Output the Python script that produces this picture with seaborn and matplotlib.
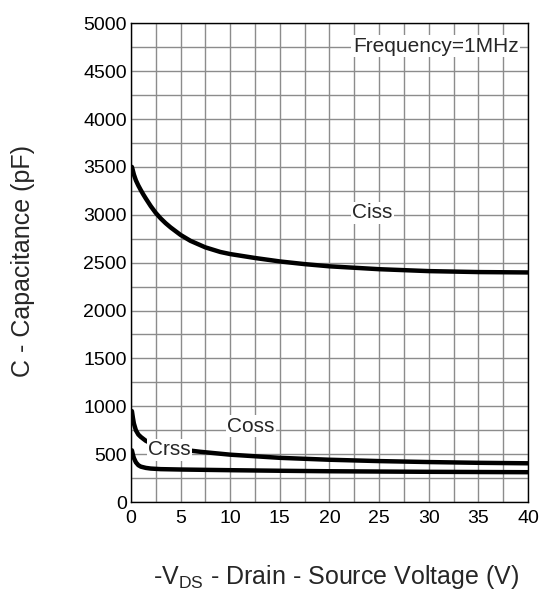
import pandas as pd
import matplotlib
matplotlib.use("Agg")
import matplotlib.pyplot as plt
from matplotlib.ticker import MultipleLocator
import seaborn as sns

# valores
ciss_v = [0.1, 0.3, 0.5, 0.75, 1, 1.25, 1.5, 2, 2.5, 3, 3.5, 4, 5, 6, 7.5, 9, 10,
          12.5, 15, 17.5, 20, 25, 30, 35, 40]
ciss_c = [3500, 3420, 3360, 3305, 3257, 3212, 3170, 3090, 3020, 2962, 2912, 2868,
          2790, 2728, 2660, 2612, 2590, 2549, 2513, 2485, 2462, 2432, 2412, 2402, 2398]

coss_v = [0.1, 0.2, 0.3, 0.5, 0.75, 1, 1.5, 2, 3, 5, 7, 10, 15, 20, 25, 30, 35, 40]
coss_c = [950, 880, 820, 750, 705, 680, 640, 615, 590, 550, 525, 495, 462, 442, 428,
          418, 410, 405]

crss_v = [0.1, 0.2, 0.3, 0.5, 0.75, 1, 1.5, 2, 3, 5, 10, 15, 20, 30, 40]
crss_c = [540, 495, 460, 415, 385, 370, 357, 350, 344, 340, 333, 327, 322, 316, 312]

x_ticks = [0, 5, 10, 15, 20, 25, 30, 35, 40]
y_ticks = [0, 500, 1000, 1500, 2000, 2500, 3000, 3500, 4000, 4500, 5000]

df = pd.concat([
    pd.DataFrame({"V": ciss_v, "C": ciss_c, "serie": "Ciss"}),
    pd.DataFrame({"V": coss_v, "C": coss_c, "serie": "Coss"}),
    pd.DataFrame({"V": crss_v, "C": crss_c, "serie": "Crss"}),
])

sns.set_theme(style="white")
plt.rcParams['font.family'] = ['Liberation Sans', 'DejaVu Sans']
plt.rcParams['mathtext.fontset'] = 'custom'
plt.rcParams['mathtext.rm'] = 'Liberation Sans'

fig = plt.figure(figsize=(5.41, 5.97), dpi=100)
ax = fig.add_axes([0.242, 0.159, 0.734, 0.802])

sns.lineplot(data=df, x="V", y="C", hue="serie", units="serie", estimator=None,
             palette={"Ciss": "black", "Coss": "black", "Crss": "black"},
             linewidth=3.2, legend=False, ax=ax, zorder=3)

ax.set_xlim(0, 40)
ax.set_ylim(0, 5000)
ax.set_xticks(x_ticks)
ax.set_yticks(y_ticks)
ax.xaxis.set_minor_locator(MultipleLocator(2.5))
ax.yaxis.set_minor_locator(MultipleLocator(250))
ax.grid(which="both", color="#8c8c8c", linewidth=1)
ax.set_axisbelow(True)
ax.tick_params(which="both", length=0, labelsize=14, colors="black")
ax.tick_params(axis="x", pad=6)
ax.tick_params(axis="y", pad=3)
ax.set_xlabel("")
ax.set_ylabel("")
for s in ax.spines.values():
    s.set_color("black")
    s.set_linewidth(1)

caja = dict(facecolor="white", edgecolor="none", pad=1)
ax.text(30.7, 4760, "Frequency=1MHz", ha="center", va="center", fontsize=15, bbox=caja, zorder=4)
ax.text(24.3, 3020, "Ciss", ha="center", va="center", fontsize=15, bbox=caja, zorder=4)
ax.text(12.1, 790, "Coss", ha="center", va="center", fontsize=15, bbox=caja, zorder=4)
ax.text(3.9, 545, "Crss", ha="center", va="center", fontsize=15, bbox=caja, zorder=4)

fig.text(0.042, 0.563, "C - Capacitance (pF)", rotation=90, ha="center", va="center", fontsize=18)
fig.text(0.621, 0.022, r"-V$_{\mathregular{DS}}$ - Drain - Source Voltage (V)", ha="center", va="baseline", fontsize=18)

fig.savefig("out.png", dpi=100)
